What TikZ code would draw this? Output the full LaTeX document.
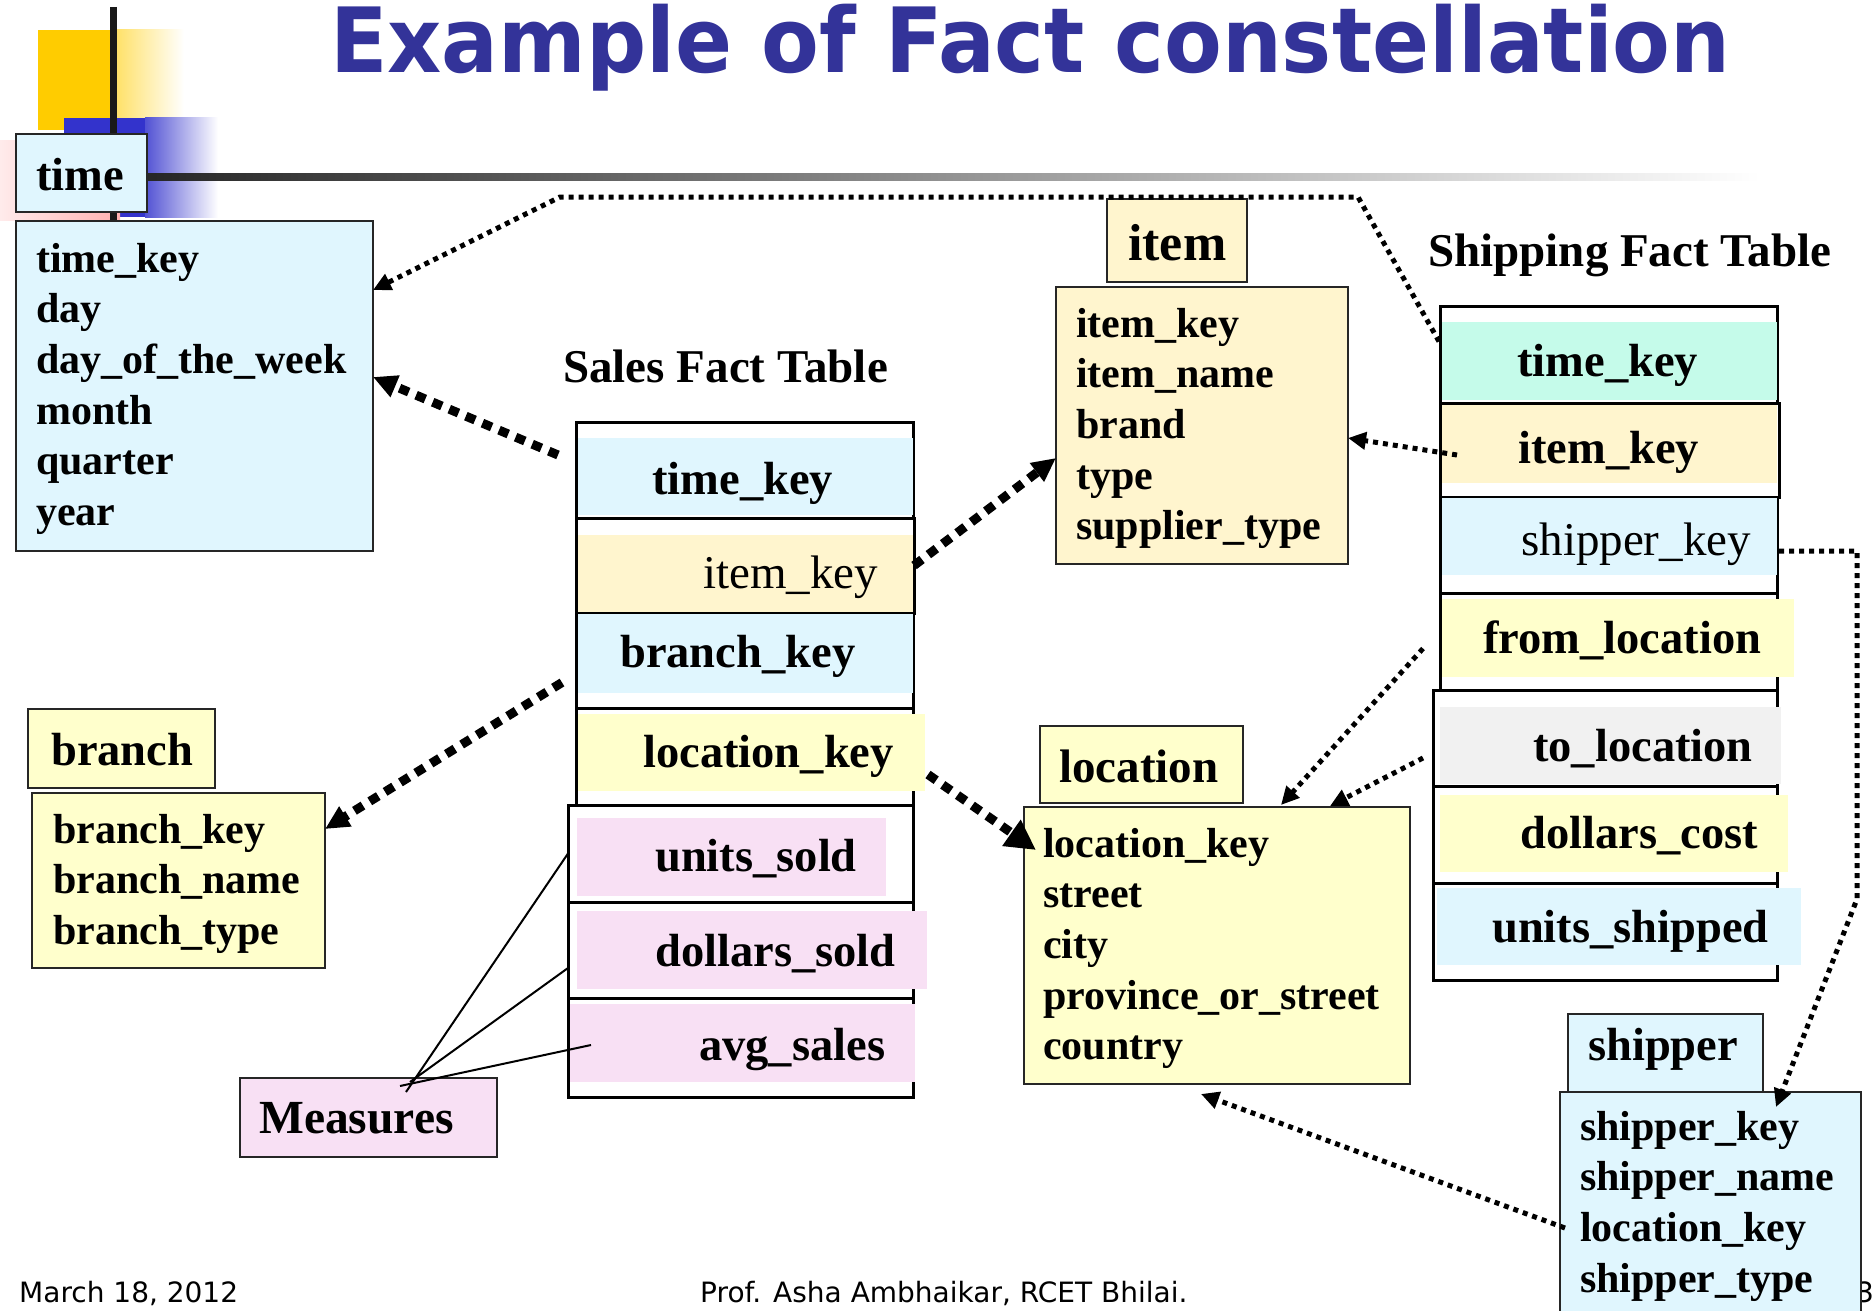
\documentclass[tikz,border=0pt]{standalone}
\usepackage{fontspec}
\usepackage{graphicx}
\setmainfont{Liberation Serif}
\newfontfamily\sansf{DejaVu Sans}
\usetikzlibrary{arrows.meta,calc}

\definecolor{cyanbox}{HTML}{E0F6FE}
\definecolor{creambox}{HTML}{FFF5CE}
\definecolor{yelbox}{HTML}{FFFFCC}
\definecolor{pinkbox}{HTML}{F8E0F4}
\definecolor{mintbox}{HTML}{C5FBEA}
\definecolor{graybox}{HTML}{F1F1F1}
\definecolor{titleblue}{HTML}{333399}
\definecolor{decoyellow}{HTML}{FFCC00}
\definecolor{decoblue}{HTML}{3333CC}
\definecolor{decopink}{HTML}{FFB0B0}

% attribute list: first line carries the baseline
\newcommand\attrlist[1]{\vtop{\halign{##\hfil\cr#1\crcr}}}

\begin{document}
\begin{tikzpicture}[x=1pt,y=-1pt,
  dimbox/.style={draw=black!85, line width=2pt, rectangle, inner sep=0pt, outer sep=0pt, anchor=north west},
  rowbox/.style={draw=black, line width=3pt, rectangle, inner sep=0pt, outer sep=0pt, anchor=north west},
  hdrtext/.style={anchor=base west, inner sep=0pt, font=\fontsize{46.5}{50}\selectfont\bfseries},
  rowtext/.style={anchor=base west, inner sep=0pt, font=\fontsize{46.5}{50}\selectfont\bfseries},
  rowtextreg/.style={anchor=base west, inner sep=0pt, font=\fontsize{47}{50}\selectfont},
  attrtext/.style={anchor=base west, inner sep=0pt, font=\fontsize{42}{50.7}\selectfont\bfseries},
  foot/.style={anchor=base west, inner sep=0pt, font=\sansf\fontsize{28}{30}\selectfont},
  fkthick/.style={line width=9pt, dash pattern=on 10pt off 8pt, -{Triangle[length=24pt,width=22pt]}},
  fkbig/.style={line width=9pt, dash pattern=on 10pt off 8pt, -{Triangle[length=30pt,width=30pt]}},
  fkthin/.style={line width=5pt, dash pattern=on 5pt off 5pt, -{Triangle[length=18pt,width=17pt]}},
  measline/.style={line width=2pt, black}]

\useasboundingbox (0,0) rectangle (1876,1311);
\fill[white] (0,0) rectangle (1876,1311);

% corner ornament
\fill[decoyellow] (38,30) rectangle (115,130);
\shade[left color=decoyellow!60, right color=white] (115,30) rectangle (184,130);
\fill[decoblue] (64,118) rectangle (145,217);
\shade[left color=decoblue!85, right color=white] (145,118) rectangle (218,217);
\shade[left color=decopink!25, right color=decopink] (0,141) rectangle (120,220);
\draw[line width=7pt, black!90] (113,7) -- (113,221);
\shade[left color=black!85, right color=white] (147,173.5) rectangle (1760,180.5);

% title
\node[anchor=base west, inner sep=0pt, text=titleblue, font=\sansf\bfseries\fontsize{90}{90}\selectfont] (title) at (330,73)
  {\scalebox{0.935}[1]{Example of Fact constellation}};

% time dimension
\node[dimbox, fill=cyanbox, minimum width=131pt, minimum height=78pt] (timeHead) at (16,134) {};
\node[hdrtext] (timeHeadTxt) at (36,190) {time};
\node[dimbox, fill=cyanbox, minimum width=357pt, minimum height=330pt] (timeAttr) at (16,221) {};
\node[attrtext] (timeAttrTxt) at (36,272)
  {\attrlist{time\_key\cr day\cr day\_of\_the\_week\cr month\cr quarter\cr year}};

% item dimension
\node[dimbox, fill=creambox, minimum width=140pt, minimum height=83pt] (itemHead) at (1107,199) {};
\node[hdrtext, font=\fontsize{52}{56}\selectfont\bfseries] (itemHeadTxt) at (1128,260) {item};
\node[dimbox, fill=creambox, minimum width=292pt, minimum height=277pt] (itemAttr) at (1056,287) {};
\node[attrtext] (itemAttrTxt) at (1076,337)
  {\attrlist{item\_key\cr item\_name\cr brand\cr type\cr supplier\_type}};

% location dimension
\node[dimbox, fill=yelbox, minimum width=203pt, minimum height=77pt] (locHead) at (1040,726) {};
\node[hdrtext, font=\fontsize{47}{50}\selectfont\bfseries] (locHeadTxt) at (1059,782) {location};
\node[dimbox, fill=yelbox, minimum width=386pt, minimum height=277pt] (locAttr) at (1024,807) {};
\node[attrtext] (locAttrTxt) at (1043,857)
  {\attrlist{location\_key\cr street\cr city\cr province\_or\_street\cr country}};

% branch dimension
\node[dimbox, fill=yelbox, minimum width=187pt, minimum height=79pt] (branchHead) at (28,709) {};
\node[hdrtext] (branchHeadTxt) at (51,765) {branch};
\node[dimbox, fill=yelbox, minimum width=293pt, minimum height=175pt] (branchAttr) at (32,793) {};
\node[attrtext] (branchAttrTxt) at (53,843)
  {\attrlist{branch\_key\cr branch\_name\cr branch\_type}};

% page number, partly behind the shipper table
\node[anchor=base east, inner sep=0pt, font=\sansf\fontsize{28}{30}\selectfont] (pagenum) at (1874,1302) {3};

% shipper dimension
\node[dimbox, fill=cyanbox, minimum width=195pt, minimum height=78pt] (shipHead) at (1568,1014) {};
\node[hdrtext] (shipHeadTxt) at (1588,1060) {shipper};
\node[dimbox, fill=cyanbox, minimum width=301pt, minimum height=228pt] (shipAttr) at (1560,1092) {};
\node[attrtext] (shipAttrTxt) at (1580,1140)
  {\attrlist{shipper\_key\cr shipper\_name\cr location\_key\cr shipper\_type}};

% measures label
\node[dimbox, fill=pinkbox, minimum width=257pt, minimum height=79pt] (measBox) at (240,1078) {};
\node[hdrtext, font=\fontsize{47.5}{50}\selectfont\bfseries] (measTxt) at (259,1133) {Measures};

% Sales fact table
\node[hdrtext, font=\fontsize{47}{50}\selectfont\bfseries] (salesTitle) at (563,382) {Sales Fact Table};
\node[rowbox, minimum width=337pt, minimum height=96pt] (saTime) at (576,422) {};
\node[rowbox, minimum width=338pt, minimum height=95pt] (saItem) at (576,518) {};
\node[rowbox, minimum width=337pt, minimum height=95pt] (saBranch) at (576,613) {};
\node[rowbox, minimum width=337pt, minimum height=97pt] (saLoc) at (576,708) {};
\node[rowbox, minimum width=345pt, minimum height=97pt] (saUnits) at (568,805) {};
\node[rowbox, minimum width=345pt, minimum height=96pt] (saDollars) at (568,902) {};
\node[rowbox, minimum width=345pt, minimum height=99pt] (saAvg) at (568,998) {};
\fill[cyanbox] (577.5,438) rectangle (913,515);
\fill[creambox] (577.5,535) rectangle (913,612);
\fill[cyanbox] (577.5,614) rectangle (913,693);
\fill[yelbox] (577.5,714) rectangle (925,791);
\fill[pinkbox] (577,818) rectangle (886,896);
\fill[pinkbox] (577,911) rectangle (927,989);
\fill[pinkbox] (569.5,1004) rectangle (915,1082);
\node[rowtext] (saTimeTxt) at (652,494) {time\_key};
\node[rowtextreg] (saItemTxt) at (703,588) {item\_key};
\node[rowtext] (saBranchTxt) at (620,667) {branch\_key};
\node[rowtext] (saLocTxt) at (643,767) {location\_key};
\node[rowtext] (saUnitsTxt) at (655,871) {units\_sold};
\node[rowtext] (saDollarsTxt) at (655,966) {dollars\_sold};
\node[rowtext] (saAvgTxt) at (699,1060) {avg\_sales};

% Shipping fact table
\node[hdrtext, font=\fontsize{47}{50}\selectfont\bfseries] (shipTitle) at (1428,266) {Shipping Fact Table};
\node[rowbox, minimum width=337pt, minimum height=97pt] (shTime) at (1440,306) {};
\node[rowbox, minimum width=339pt, minimum height=94pt] (shItem) at (1440,403) {};
\node[rowbox, minimum width=337pt, minimum height=96pt] (shShip) at (1440,497) {};
\node[rowbox, minimum width=337pt, minimum height=97pt] (shFrom) at (1440,593) {};
\node[rowbox, minimum width=344pt, minimum height=96pt] (shTo) at (1433,690) {};
\node[rowbox, minimum width=344pt, minimum height=97pt] (shCost) at (1433,786) {};
\node[rowbox, minimum width=344pt, minimum height=97pt] (shUnits) at (1433,883) {};
\fill[mintbox] (1441.5,322) rectangle (1777,400);
\fill[creambox] (1441.5,405) rectangle (1777,483);
\fill[cyanbox] (1441.5,498) rectangle (1777,575);
\fill[yelbox] (1441.5,599) rectangle (1794,677);
\fill[graybox] (1440,707) rectangle (1781,784);
\fill[yelbox] (1440,795) rectangle (1788,872);
\fill[cyanbox] (1437,888) rectangle (1801,965);
\node[rowtext] (shTimeTxt) at (1517,376) {time\_key};
\node[rowtext] (shItemTxt) at (1518,463) {item\_key};
\node[rowtextreg] (shShipTxt) at (1521,555) {shipper\_key};
\node[rowtext] (shFromTxt) at (1483,653) {from\_location};
\node[rowtext] (shToTxt) at (1533,761) {to\_location};
\node[rowtext] (shCostTxt) at (1520,848) {dollars\_cost};
\node[rowtext] (shUnitsTxt) at (1492,942) {units\_shipped};

% measure pointers
\draw[measline] ($(measBox.north west)+(166,14)$) -- (saUnits.west);
\draw[measline] ($(measBox.north west)+(170,4)$) -- ($(saDollars.west)+(0,18)$);
\draw[measline] ($(measBox.north west)+(160,8)$) -- ($(saAvg.west)+(23,-2.5)$);

% foreign keys of the sales fact table
\draw[fkthick] ($(saTime.west)+(-18,-15)$) -- ($(timeAttr.north east)+(0,156)$);
\draw[fkthick] (saItem.east) -- ($(itemAttr.north west)+(0,171)$);
\draw[fkthick] ($(saBranch.west)+(-14,22)$) -- ($(branchAttr.north east)+(0,36)$);
\draw[fkbig] ($(saLoc.east)+(15,18)$) -- ($(locAttr.north west)+(12,43)$);

% foreign keys of the shipping fact table
\draw[fkthin] ($(shTime.west)+(-1,-13)$) -- (1358,197) -- (560,197) -- ($(timeAttr.north east)+(0,69)$);
\draw[fkthin] ($(shItem.west)+(17,5)$) -- ($(itemAttr.north east)+(0,151)$);
\draw[fkthin] ($(shFrom.west)+(-17,7)$) -- ($(locAttr.north west)+(257,-2)$);
\draw[fkthin] ($(shTo.west)+(-10,20)$) -- ($(locAttr.north west)+(306,-1)$);
\draw[fkthin] ($(shShip.east)+(2,6)$) -- (1857,551) -- (1857,899) -- ($(shipAttr.north west)+(216,15)$);
\draw[fkthin] ($(shipAttr.north west)+(5,136)$) -- ($(locAttr.south west)+(177,10)$);

% footer
\node[foot] (date) at (19,1302) {March 18, 2012};
\node[foot] (author) at (700,1302) {Prof. Asha Ambhaikar, RCET Bhilai.};

\end{tikzpicture}
\end{document}
